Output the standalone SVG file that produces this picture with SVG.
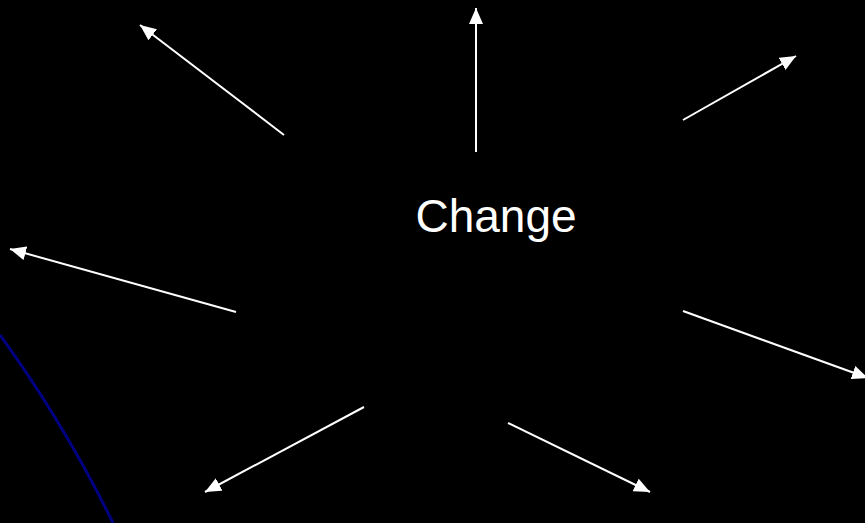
<svg xmlns="http://www.w3.org/2000/svg" width="865" height="523" viewBox="0 0 865 523">
<defs>
<style>
.c line{stroke:#fff;stroke-width:2;marker-end:url(#ah)}
.t{font-family:"Liberation Sans",Arial,sans-serif;font-size:46px;fill:#fff}
</style>
<marker id="ah" markerUnits="userSpaceOnUse" markerWidth="18" markerHeight="14" refX="16" refY="7" orient="auto">
<path d="M0,0 L16,7 L0,14 Z" fill="#fff"/>
</marker>
</defs>
<rect width="865" height="523" fill="#000"/>
<path d="M0,335 Q65,425 113,523" fill="none" stroke="#000080" stroke-width="3"/>
<g id="change"><text class="t" x="496" y="232" text-anchor="middle">Change</text></g>
<g class="c" id="connectors">
<line x1="284" y1="135" x2="140" y2="25"/>
<line x1="476" y1="152" x2="476" y2="8"/>
<line x1="683" y1="120" x2="796" y2="56"/>
<line x1="236" y1="312" x2="10" y2="249"/>
<line x1="683" y1="311" x2="868" y2="378"/>
<line x1="364" y1="407" x2="205" y2="492"/>
<line x1="508" y1="423" x2="650" y2="492"/>
</g>
</svg>
